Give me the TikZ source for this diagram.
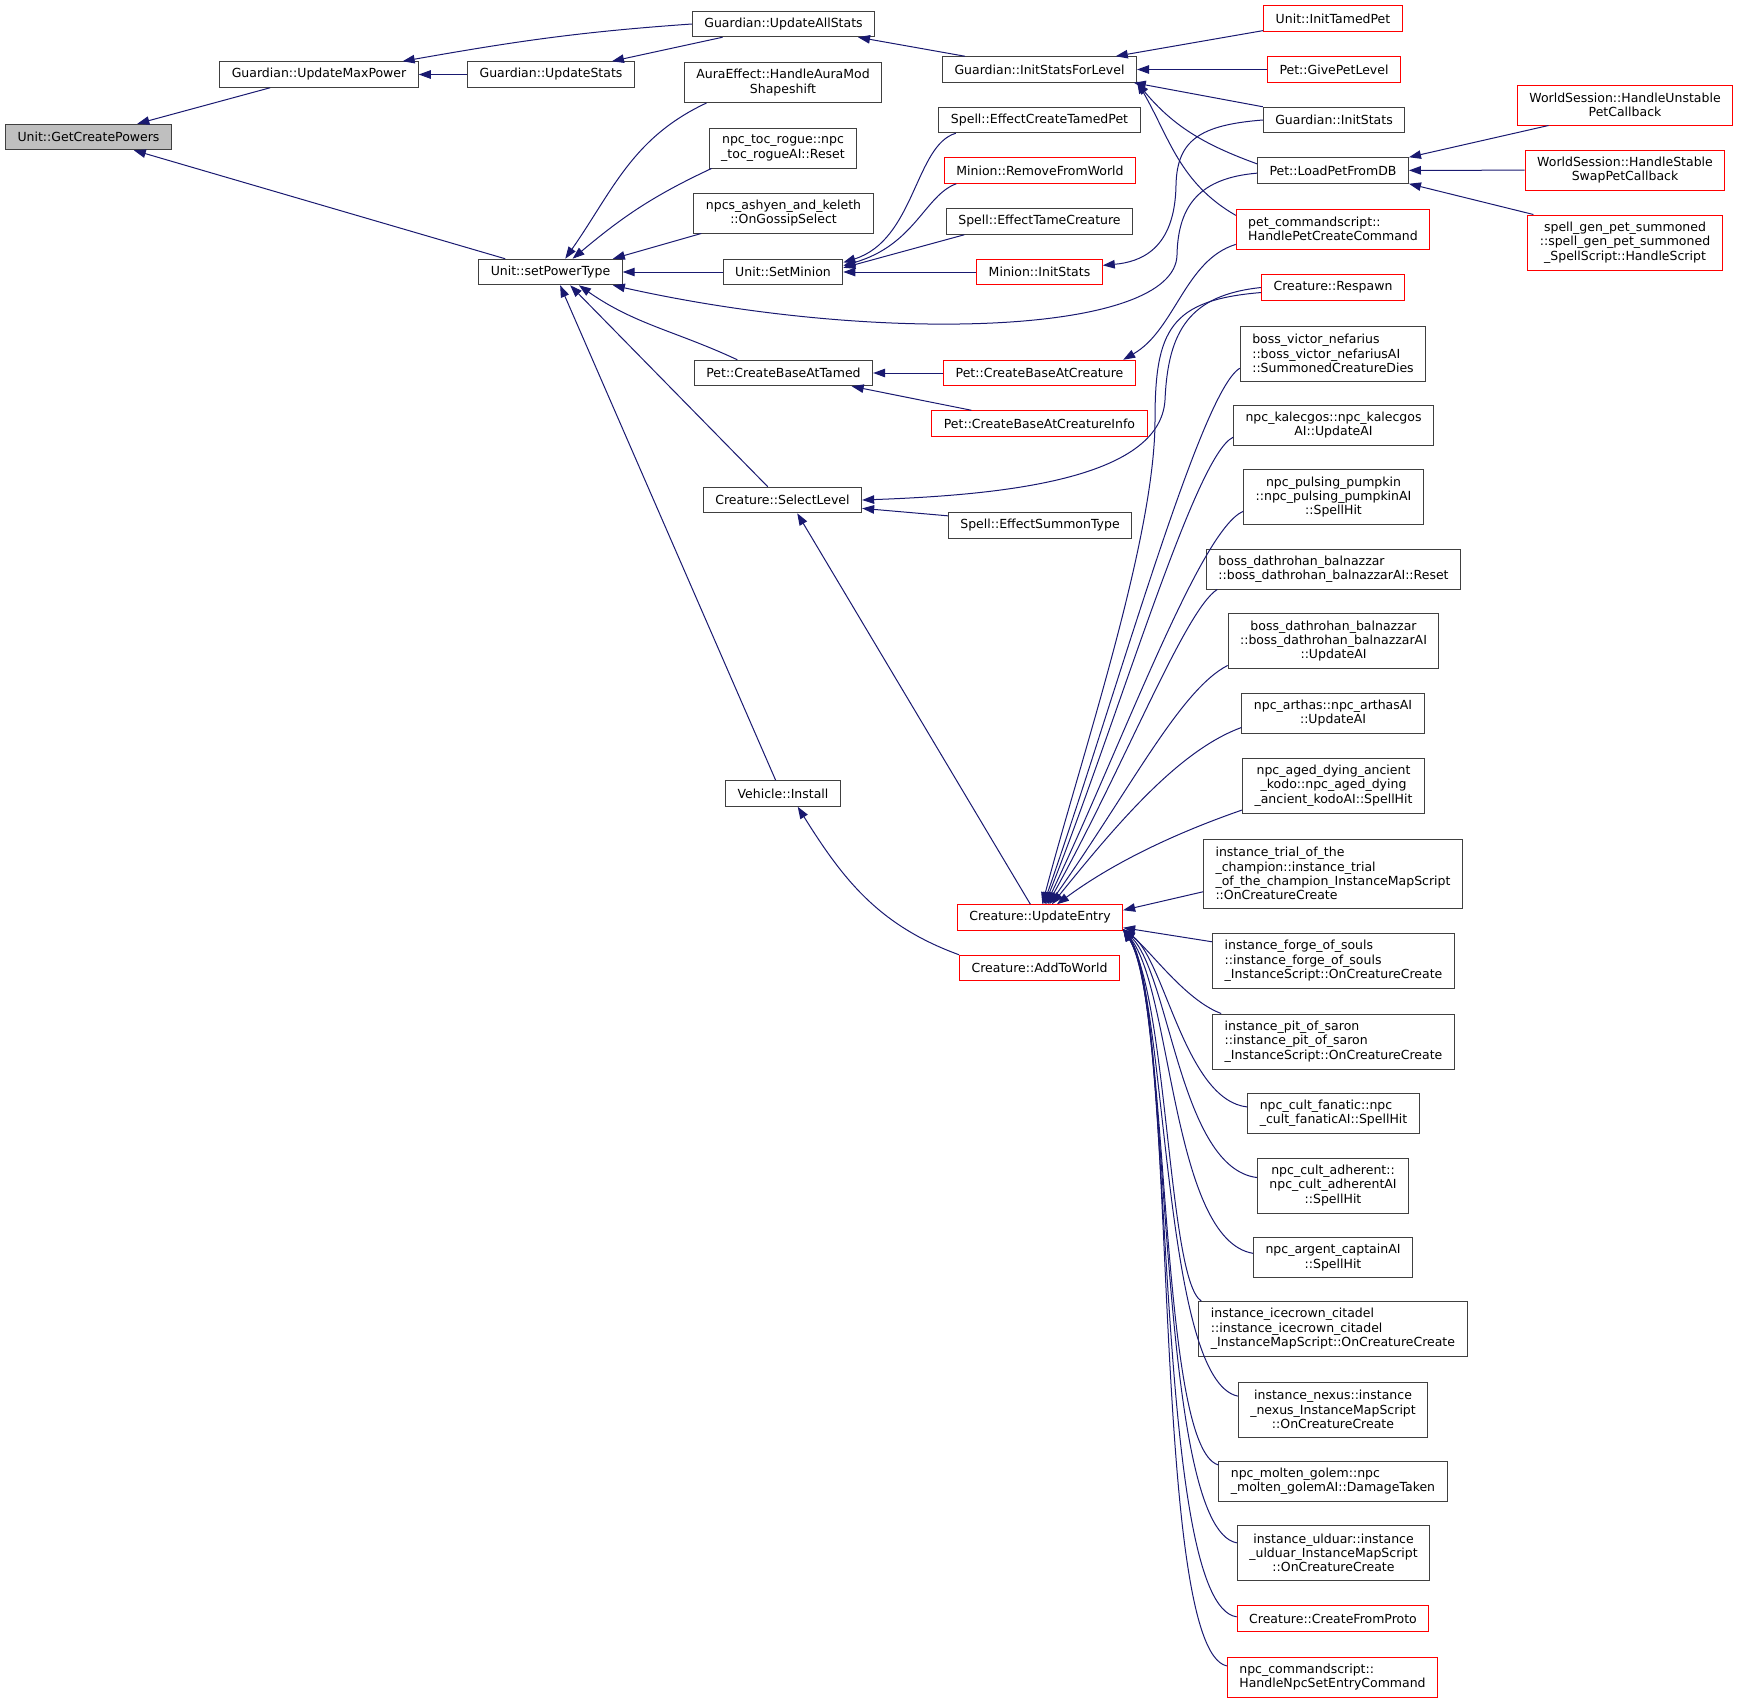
\documentclass[tikz,border=0pt]{standalone}
\usepackage{fontspec}
\setmainfont{DejaVu Sans}
\usepackage{xcolor}
\usetikzlibrary{arrows.meta}
\definecolor{midnight}{HTML}{191970}

\begin{document}
\begin{tikzpicture}[
    x=1pt, y=1pt,
    fn/.style={draw=black!75, line width=1pt, fill=white, rectangle, align=center,
      inner xsep=12pt, inner ysep=2pt, minimum height=25.5pt,
      font=\fontsize{12.5}{14.3}\selectfont},
    fnred/.style={fn, draw=red},
    fnroot/.style={fn, fill=black!25},
    two/.style={minimum height=40pt},
    three/.style={minimum height=55pt},
    four/.style={minimum height=69pt},
    call/.style={-{Triangle[length=12pt,width=8.5pt]}, draw=midnight, line width=1pt}
]
\useasboundingbox (0,0) rectangle (1739,-1703);

\node[fnroot] (root) at (88.5,-137) {Unit::GetCreatePowers};
\node[fn] (maxpow) at (319,-74.5) {Guardian::UpdateMaxPower};
\node[fn] (updstats) at (551,-74.5) {Guardian::UpdateStats};
\node[fn] (setpower) at (550.5,-272) {Unit::setPowerType};
\node[fn] (allstats) at (783.5,-24) {Guardian::UpdateAllStats};
\node[fn, two] (aura) at (783,-82.5) {AuraEffect::HandleAuraMod\\Shapeshift};
\node[fn, two] (tocrogue) at (783,-148) {npc\_toc\_rogue::npc\\\_toc\_rogueAI::Reset};
\node[fn, two] (ashyen) at (783.5,-213) {npcs\_ashyen\_and\_keleth\\::OnGossipSelect};
\node[fn] (setminion) at (783,-272) {Unit::SetMinion};
\node[fn] (basetamed) at (783.5,-373) {Pet::CreateBaseAtTamed};
\node[fn] (selectlevel) at (782.5,-500) {Creature::SelectLevel};
\node[fn] (vehicle) at (783,-793.5) {Vehicle::Install};

\node[fn] (initlevel) at (1039.5,-69.5) {Guardian::InitStatsForLevel};
\node[fn] (createtamed) at (1039.5,-120) {Spell::EffectCreateTamedPet};
\node[fnred] (removeworld) at (1040,-170.5) {Minion::RemoveFromWorld};
\node[fn] (tamecreature) at (1039.5,-221.5) {Spell::EffectTameCreature};
\node[fnred] (minionstats) at (1039.5,-272) {Minion::InitStats};
\node[fnred] (basecreature) at (1039.5,-373) {Pet::CreateBaseAtCreature};
\node[fnred] (basecreatureinfo) at (1039.5,-423.5) {Pet::CreateBaseAtCreatureInfo};
\node[fn] (summontype) at (1040,-525.5) {Spell::EffectSummonType};
\node[fnred] (updentry) at (1040,-917.5) {Creature::UpdateEntry};
\node[fnred] (addworld) at (1039.5,-968) {Creature::AddToWorld};

\node[fnred] (tamedpet) at (1333,-18.5) {Unit::InitTamedPet};
\node[fnred] (givelevel) at (1334,-69.5) {Pet::GivePetLevel};
\node[fn] (initstats) at (1334,-120) {Guardian::InitStats};
\node[fn] (loadpet) at (1333,-170.5) {Pet::LoadPetFromDB};
\node[fnred, two, align=left] (petcreate) at (1333,-229) {pet\_commandscript::\\HandlePetCreateCommand};
\node[fnred] (respawn) at (1333,-287.5) {Creature::Respawn};
\node[fn, three, align=left] (nefarius) at (1333,-353.5) {boss\_victor\_nefarius\\::boss\_victor\_nefariusAI\\::SummonedCreatureDies};
\node[fn, two] (kalecgos) at (1333.5,-425) {npc\_kalecgos::npc\_kalecgos\\AI::UpdateAI};
\node[fn, three] (pumpkin) at (1333.5,-497) {npc\_pulsing\_pumpkin\\::npc\_pulsing\_pumpkinAI\\::SpellHit};
\node[fn, two, align=left] (balreset) at (1333.5,-569) {boss\_dathrohan\_balnazzar\\::boss\_dathrohan\_balnazzarAI::Reset};
\node[fn, three] (balupdate) at (1333.5,-641) {boss\_dathrohan\_balnazzar\\::boss\_dathrohan\_balnazzarAI\\::UpdateAI};
\node[fn, two] (arthas) at (1333,-713) {npc\_arthas::npc\_arthasAI\\::UpdateAI};
\node[fn, three] (kodo) at (1333.5,-785.5) {npc\_aged\_dying\_ancient\\\_kodo::npc\_aged\_dying\\\_ancient\_kodoAI::SpellHit};
\node[fn, four, align=left] (trial) at (1333,-873.5) {instance\_trial\_of\_the\\\_champion::instance\_trial\\\_of\_the\_champion\_InstanceMapScript\\::OnCreatureCreate};
\node[fn, three, align=left] (forge) at (1333.5,-961) {instance\_forge\_of\_souls\\::instance\_forge\_of\_souls\\\_InstanceScript::OnCreatureCreate};
\node[fn, three, align=left] (saron) at (1333.5,-1041.5) {instance\_pit\_of\_saron\\::instance\_pit\_of\_saron\\\_InstanceScript::OnCreatureCreate};
\node[fn, two, align=left] (fanatic) at (1333.5,-1113) {npc\_cult\_fanatic::npc\\\_cult\_fanaticAI::SpellHit};
\node[fn, three] (adherent) at (1333,-1185.5) {npc\_cult\_adherent::\\npc\_cult\_adherentAI\\::SpellHit};
\node[fn, two] (captain) at (1333,-1257.5) {npc\_argent\_captainAI\\::SpellHit};
\node[fn, three, align=left] (icecrown) at (1333,-1329) {instance\_icecrown\_citadel\\::instance\_icecrown\_citadel\\\_InstanceMapScript::OnCreatureCreate};
\node[fn, three] (nexus) at (1333,-1409.5) {instance\_nexus::instance\\\_nexus\_InstanceMapScript\\::OnCreatureCreate};
\node[fn, two, align=left] (golem) at (1333,-1481) {npc\_molten\_golem::npc\\\_molten\_golemAI::DamageTaken};
\node[fn, three] (ulduar) at (1333.5,-1553) {instance\_ulduar::instance\\\_ulduar\_InstanceMapScript\\::OnCreatureCreate};
\node[fnred] (fromproto) at (1333,-1618.5) {Creature::CreateFromProto};
\node[fnred, two, align=left] (npcentry) at (1332.5,-1677) {npc\_commandscript::\\HandleNpcSetEntryCommand};

\node[fnred, two] (unstable) at (1625,-105) {WorldSession::HandleUnstable\\PetCallback};
\node[fnred, two] (stableswap) at (1625,-170) {WorldSession::HandleStable\\SwapPetCallback};
\node[fnred, three] (petsummoned) at (1625,-242.5) {spell\_gen\_pet\_summoned\\::spell\_gen\_pet\_summoned\\\_SpellScript::HandleScript};

\draw[call] (maxpow) -- (root);
\draw[call] (setpower) -- (root);
\draw[call] (updstats) -- (maxpow);
\draw[call] (allstats.west) to[out=184,in=10] (maxpow.9);
\draw[call] (allstats) -- (updstats);
\draw[call] (initlevel) -- (allstats);
\draw[call] (tamedpet) -- (initlevel);
\draw[call] (givelevel) -- (initlevel);
\draw[call] (initstats) -- (initlevel.-8);
\draw[call] (loadpet.175) to[out=160,in=-50] (initlevel.south east);
\draw[call] (petcreate.172) to[out=150,in=-60] (initlevel.-7);
\draw[call] (aura.195) to[out=205,in=55] (setpower.42);
\draw[call] (tocrogue.196) to[out=205,in=40] (setpower.31);
\draw[call] (ashyen.194) -- (setpower.12);
\draw[call] (setminion) -- (setpower);
\draw[call] (loadpet.182) .. controls (1200,-178) and (1178,-205) .. (1177,-255)
  .. controls (1175,-335) and (880,-345) .. (setpower.-12);
\draw[call] (basetamed.164) to[out=155,in=-35] (setpower.-25);
\draw[call] (selectlevel.138) -- (setpower.-34);
\draw[call] (vehicle.119) -- (setpower.-54);
\draw[call] (createtamed.189) .. controls (915,-145) and (915,-240) .. (setminion.9);
\draw[call] (removeworld.189) .. controls (925,-195) and (915,-245) .. (setminion.6);
\draw[call] (tamecreature.190) -- (setminion.4);
\draw[call] (minionstats) -- (setminion);
\draw[call] (initstats.west) .. controls (1200,-125) and (1177,-140) .. (1176,-185)
  .. controls (1175,-250) and (1140,-262) .. (minionstats.6);
\draw[call] (unstable.195) -- (loadpet.north east);
\draw[call] (stableswap) -- (loadpet);
\draw[call] (petsummoned.163) -- (loadpet.south east);
\draw[call] (basecreature) -- (basetamed);
\draw[call] (basecreatureinfo.169) -- (basetamed.-11);
\draw[call] (petcreate.189) .. controls (1185,-260) and (1175,-330) .. (basecreature.9);
\draw[call] (respawn.west) .. controls (1190,-295) and (1168,-330) .. (1165,-400)
  .. controls (1160,-480) and (1000,-495) .. (selectlevel.east);
\draw[call] (summontype.174) -- (selectlevel.-6);
\draw[call] (updentry.126) -- (selectlevel.-42);
\draw[call] (addworld.north west) to[out=160,in=-58] (vehicle.-42);

\draw[call] (respawn.184) .. controls (1170,-300) and (1155,-330) .. (1155,-420)
  .. controls (1155,-540) and (1080,-760) .. (updentry.80);
\draw[call] (nefarius.189) .. controls (1200,-392) and (1115,-700) .. (updentry.75);
\draw[call] (kalecgos.187) .. controls (1195,-455) and (1118,-720) .. (updentry.70);
\draw[call] (pumpkin.189) .. controls (1200,-530) and (1122,-745) .. (updentry.65);
\draw[call] (balreset.190) .. controls (1185,-610) and (1125,-765) .. (updentry.60);
\draw[call] (balupdate.193) .. controls (1180,-690) and (1130,-790) .. (updentry.55);
\draw[call] (arthas.189) .. controls (1180,-750) and (1120,-820) .. (updentry.48);
\draw[call] (kodo.195) .. controls (1170,-835) and (1110,-865) .. (updentry.38);
\draw[call] (trial.188) -- (updentry.5);
\draw[call] (forge.171) -- (updentry.-7);
\draw[call] (saron.166) .. controls (1185,-1000) and (1150,-950) .. (updentry.-8);
\draw[call] (fanatic.176) .. controls (1185,-1100) and (1165,-960) .. (updentry.-8);
\draw[call] (adherent.174) .. controls (1180,-1168) and (1170,-975) .. (updentry.-8);
\draw[call] (captain.177) .. controls (1172,-1240) and (1172,-990) .. (updentry.-8);
\draw[call] (icecrown.168) .. controls (1168,-1280) and (1168,-1000) .. (updentry.-8);
\draw[call] (nexus.172) .. controls (1162,-1380) and (1168,-1000) .. (updentry.-8);
\draw[call] (golem.172) .. controls (1158,-1448) and (1170,-1005) .. (updentry.-8);
\draw[call] (ulduar.174) .. controls (1155,-1528) and (1172,-1005) .. (updentry.-8);
\draw[call] (fromproto.179) .. controls (1152,-1605) and (1175,-1005) .. (updentry.-8);
\draw[call] (npcentry.174) .. controls (1150,-1650) and (1178,-1005) .. (updentry.-8);
\end{tikzpicture}
\end{document}
